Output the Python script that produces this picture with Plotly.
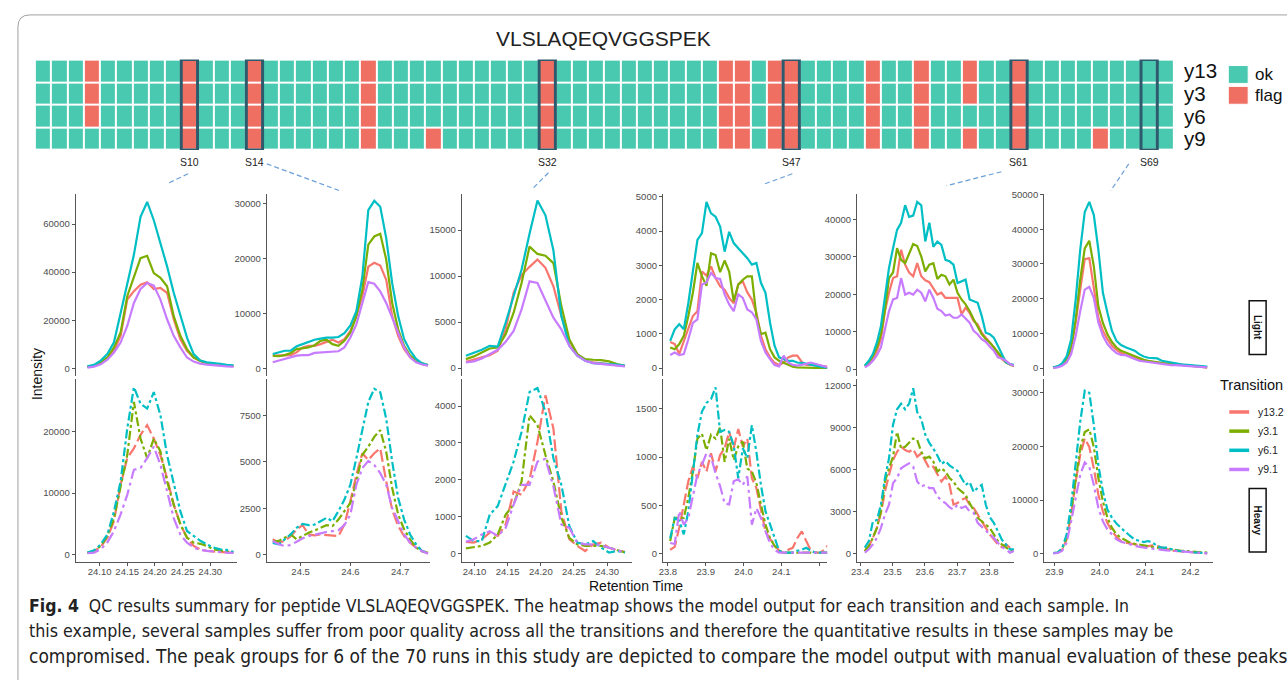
import plotly.graph_objects as go

W, H = 1287, 680

# ---------------- heatmap data ----------------
SAMPLES = list(range(1, 71))
HM_ROWS = ["y13", "y3", "y6", "y9"]
FLAG_ALL_ROWS = [10, 14, 21, 32, 43, 44, 46, 47, 52, 55, 61]
FLAG_SOME_ROWS = {4: ["y13", "y3", "y6"], 25: ["y9"], 58: ["y13", "y3", "y9"], 66: ["y9"]}
SHOWN_SAMPLES = [10, 14, 32, 47, 61, 69]
PEPTIDE = "VLSLAQEQVGGSPEK"

TRANSITIONS = ["y13.2", "y3.1", "y6.1", "y9.1"]
COLORS = ["#F8766D", "#7CAE00", "#00BFC4", "#C77CFF"]

# ---------------- chromatograms ----------------
S10_RT = [24.078, 24.090, 24.102, 24.114, 24.126, 24.138, 24.150, 24.162, 24.174, 24.186, 24.198, 24.210,
          24.222, 24.234, 24.246, 24.258, 24.270, 24.282, 24.294, 24.306, 24.318, 24.330, 24.342]
S10_LIGHT = {
    "y13.2": [550, 950, 2000, 3900, 7300, 13500, 28600, 32100, 34800, 35800, 33000, 33400, 31400, 20400, 12100, 7300, 4500, 2900, 2000, 1650, 1200, 950, 800],
    "y3.1": [700, 1200, 2500, 4500, 8700, 14900, 30000, 38300, 45800, 46800, 39600, 37600, 34100, 21700, 13500, 8000, 4500, 3200, 2200, 1650, 1400, 1100, 1000],
    "y6.1": [800, 1400, 3200, 5900, 10800, 23000, 35500, 47200, 63000, 69200, 61600, 52000, 42400, 31400, 21700, 12800, 5900, 3200, 2500, 2300, 1900, 1400, 1200],
    "y9.1": [300, 700, 1650, 3600, 6600, 10700, 17600, 27200, 33000, 35500, 34400, 28600, 20400, 13500, 8700, 4500, 2800, 1900, 1500, 1200, 950, 800, 700],
}
S10_HEAVY = {
    "y13.2": [220, 490, 1200, 2700, 5400, 11400, 15700, 17300, 19500, 21100, 18900, 16200, 12400, 8100, 4900, 2700, 1350, 800, 540, 430, 380, 270, 220],
    "y3.1": [220, 540, 1350, 3000, 5900, 10800, 16200, 24900, 18900, 15700, 18900, 16800, 11900, 8100, 4900, 2700, 1900, 1700, 1350, 800, 650, 430, 270],
    "y6.1": [270, 650, 1600, 3200, 7000, 11900, 20500, 27300, 24600, 23800, 26500, 22700, 16200, 11400, 7000, 3800, 3000, 2200, 1600, 1100, 800, 700, 380],
    "y9.1": [160, 270, 800, 1900, 3800, 6500, 9700, 13800, 14100, 15700, 17600, 14600, 10300, 5900, 3200, 1900, 1100, 700, 540, 490, 380, 270, 220],
}

S14_RT = [24.444, 24.456, 24.468, 24.480, 24.492, 24.504, 24.516, 24.528, 24.540, 24.552, 24.564, 24.576, 24.588,
          24.600, 24.612, 24.624, 24.636, 24.648, 24.660, 24.672, 24.684, 24.696, 24.708, 24.720, 24.732, 24.744, 24.756]
S14_LIGHT = {
    "y13.2": [2300, 2300, 2300, 2400, 2900, 3800, 4100, 4100, 4400, 4800, 5200, 4700, 5300, 6800, 9500, 13100, 18500, 19200, 18700, 16100, 9500, 5900, 3500, 2000, 1200, 800, 500],
    "y3.1": [2300, 2200, 2400, 2800, 3500, 3600, 3800, 4200, 5000, 5200, 4400, 4100, 5000, 6500, 9500, 14300, 22500, 24000, 24500, 19800, 11900, 7100, 4100, 2300, 1400, 900, 600],
    "y6.1": [2600, 2900, 3200, 3200, 4000, 4400, 4800, 5200, 5400, 5600, 5600, 5700, 6400, 7800, 10400, 16700, 28800, 30500, 29400, 23700, 15500, 9500, 5300, 3200, 1700, 900, 600],
    "y9.1": [1100, 1400, 1800, 2000, 2300, 2400, 2400, 2800, 2900, 3000, 3100, 3100, 3800, 5600, 8000, 11900, 15700, 15400, 14000, 11900, 9200, 6500, 3800, 2000, 1100, 700, 500],
}
S14_HEAVY = {
    "y13.2": [840, 660, 750, 1010, 1370, 1600, 1100, 1050, 1100, 1070, 1050, 1010, 1630, 2880, 4300, 5460, 5100, 5460, 5720, 3950, 2430, 1550, 1010, 660, 390, 180, 90],
    "y3.1": [710, 750, 920, 1100, 840, 1010, 1190, 1310, 1460, 1600, 1550, 1900, 2350, 2790, 3950, 5370, 5810, 6340, 6700, 5540, 3590, 2170, 1370, 840, 390, 210, 120],
    "y6.1": [650, 570, 840, 1100, 1460, 1670, 1600, 1630, 1810, 1990, 1810, 2350, 2970, 3770, 5190, 6610, 8210, 8920, 8740, 7320, 5010, 3060, 1900, 1100, 570, 210, 120],
    "y9.1": [750, 570, 480, 530, 710, 890, 1010, 1100, 1160, 1230, 1280, 1330, 1600, 2170, 3770, 4660, 5050, 4830, 4390, 3770, 2520, 1810, 1100, 660, 390, 210, 70],
}

S32_RT = [24.087, 24.099, 24.111, 24.123, 24.135, 24.147, 24.159, 24.171, 24.183, 24.195, 24.207,
          24.219, 24.231, 24.243, 24.255, 24.267, 24.279, 24.291, 24.303, 24.315, 24.327]
S32_LIGHT = {
    "y13.2": [680, 900, 1120, 1400, 1870, 4210, 8170, 10100, 11000, 11800, 10900, 8880, 5650, 2950, 1510, 790, 610, 540, 430, 320, 220],
    "y3.1": [970, 1260, 1690, 2120, 2230, 3670, 6010, 9240, 13200, 12400, 12200, 11400, 6730, 3130, 1510, 970, 900, 860, 720, 430, 250],
    "y6.1": [1330, 1620, 1980, 2410, 2340, 4930, 7800, 10700, 14600, 18200, 16600, 12800, 5650, 2410, 1330, 790, 540, 500, 430, 360, 250],
    "y9.1": [610, 720, 1040, 1510, 1980, 2840, 4030, 6370, 9420, 9240, 7270, 5470, 4210, 2410, 1330, 790, 540, 430, 320, 250, 180],
}
S32_HEAVY = {
    "y13.2": [310, 290, 380, 560, 470, 780, 1680, 1590, 2000, 3030, 4290, 3390, 1140, 380, 200, 60, 240, 290, 150, 80, 40],
    "y3.1": [130, 170, 200, 290, 510, 1050, 1320, 1950, 3750, 3480, 2670, 1950, 960, 420, 240, 200, 200, 200, 150, 80, 20],
    "y6.1": [470, 330, 330, 1050, 1280, 1860, 2490, 3300, 4380, 4490, 3840, 2580, 1860, 740, 290, 240, 330, 150, 20, 60, 20],
    "y9.1": [310, 380, 510, 600, 470, 690, 1320, 1860, 1860, 2490, 2560, 1820, 780, 690, 290, 240, 240, 220, 150, 80, 20],
}

S47_RT = [23.806, 23.818, 23.830, 23.842, 23.854, 23.866, 23.878, 23.890, 23.902, 23.914, 23.926, 23.938,
          23.950, 23.962, 23.974, 23.986, 23.998, 24.010, 24.022, 24.034, 24.046, 24.058, 24.070, 24.082,
          24.094, 24.106, 24.118, 24.130, 24.142, 24.154, 24.166, 24.178, 24.190, 24.202, 24.214, 24.226]
S47_LIGHT = {
    "y13.2": [760, 700, 410, 790, 1130, 1520, 1660, 2820, 2700, 2970, 2630, 2390, 2290, 2050, 1890, 2440, 2530, 2210, 2000, 1610, 940, 550, 310, 150, 90, 160, 310, 360, 360, 180, 90, 90, 90, 70, 50, 30],
    "y3.1": [600, 550, 700, 940, 1520, 2200, 3070, 2680, 2400, 3350, 3300, 2800, 3140, 2820, 1950, 2440, 2580, 2680, 2680, 1520, 990, 1030, 550, 310, 210, 160, 90, 40, 20, 10, 0, 0, 0, 0, 0, 0],
    "y6.1": [790, 1130, 1280, 1130, 1900, 2780, 3740, 3940, 4850, 4520, 4420, 4130, 3400, 3980, 3650, 3500, 3360, 3210, 3020, 3070, 2490, 2200, 1330, 650, 310, 260, 210, 210, 160, 150, 120, 90, 70, 50, 20, 10],
    "y9.1": [380, 450, 380, 410, 840, 1320, 1420, 2440, 2500, 2780, 2630, 2600, 2150, 1860, 1660, 2150, 2050, 1710, 1630, 1420, 790, 450, 260, 90, 50, 360, 160, 90, 70, 90, 120, 160, 120, 70, 30, 10],
}
S47_HEAVY = {
    "y13.2": [40, 70, 270, 510, 750, 900, 780, 950, 850, 1040, 850, 1020, 1090, 1260, 1090, 1290, 1110, 1190, 780, 680, 440, 230, 150, 100, 30, 10, 40, 60, 160, 230, 130, 30, 10, 10, 40, 100],
    "y3.1": [130, 370, 370, 370, 580, 850, 1190, 1240, 1070, 1230, 1190, 1310, 950, 1190, 970, 1110, 1160, 880, 850, 730, 510, 300, 160, 80, 30, 10, 10, 10, 10, 10, 10, 10, 10, 10, 10, 10],
    "y6.1": [160, 370, 340, 200, 440, 850, 1230, 1470, 1560, 1600, 1720, 1260, 1280, 1260, 1120, 780, 1090, 990, 1330, 1050, 710, 440, 300, 160, 30, 10, 10, 10, 30, 40, 60, 30, 10, 10, 10, 10],
    "y9.1": [110, 100, 440, 300, 370, 590, 820, 920, 1040, 1000, 830, 700, 520, 510, 750, 770, 710, 800, 300, 470, 370, 230, 110, 40, 10, 10, 10, 10, 10, 10, 10, 10, 10, 10, 10, 10],
}

S61_RT = [23.4140, 23.4265, 23.4390, 23.4515, 23.4640, 23.4765, 23.4890, 23.5015, 23.5140, 23.5265,
          23.5390, 23.5515, 23.5640, 23.5765, 23.5890, 23.6015, 23.6140, 23.6265, 23.6390, 23.6515,
          23.6640, 23.6765, 23.6890, 23.7015, 23.7140, 23.7265, 23.7390, 23.7515, 23.7640, 23.7765,
          23.7890, 23.8015, 23.8140, 23.8265, 23.8390, 23.8515, 23.8640, 23.8765]
S61_LIGHT = {
    "y13.2": [710, 1500, 2800, 4900, 8000, 15500, 20400, 24300, 24800, 31900, 27900, 25800, 24800, 28300, 24800, 23700, 23200, 21700, 19900, 20400, 19000, 19000, 19000, 19000, 14600, 16400, 15000, 12800, 11900, 9700, 8400, 7100, 5800, 4000, 2700, 1800, 1200, 710],
    "y3.1": [890, 1800, 3500, 5800, 9300, 15900, 24300, 25800, 32300, 29200, 28300, 31000, 33400, 32900, 30100, 26100, 27900, 28300, 24100, 25200, 24800, 22600, 23900, 20400, 18600, 17300, 15500, 13300, 11100, 9300, 8000, 7100, 5800, 4400, 3100, 1800, 1200, 890],
    "y6.1": [890, 2200, 4000, 7100, 11500, 18600, 27000, 32300, 37200, 39100, 43800, 40700, 41000, 44700, 43800, 34100, 39100, 32700, 34100, 33200, 29200, 28800, 27900, 23000, 23500, 23900, 18600, 18100, 17700, 14200, 9700, 9300, 8400, 6200, 4000, 1800, 1300, 1100],
    "y9.1": [440, 1100, 2200, 3700, 5800, 10600, 15500, 18600, 19000, 24300, 19900, 20400, 19900, 21200, 20400, 18100, 21200, 19000, 16100, 15500, 14300, 14600, 13700, 13700, 14600, 13500, 12400, 10200, 9300, 8000, 7300, 6000, 4900, 3100, 2800, 2200, 1300, 890],
}
S61_HEAVY = {
    "y13.2": [190, 540, 1130, 1840, 2910, 4440, 5620, 6680, 7270, 7630, 7390, 7270, 7460, 6920, 7160, 6570, 6090, 6210, 5620, 5150, 5500, 4910, 3500, 3610, 3850, 3970, 3500, 3260, 2790, 2310, 1840, 1370, 1020, 660, 470, 660, 430, 540],
    "y3.1": [190, 540, 1130, 1840, 3020, 5150, 6090, 6920, 8690, 7510, 7630, 7940, 8220, 8100, 7270, 6800, 6920, 6570, 5860, 6090, 5860, 5390, 5150, 4680, 4440, 4200, 3610, 3020, 2550, 2310, 2080, 1840, 1370, 900, 660, 430, 240, 190],
    "y6.1": [430, 900, 2300, 2400, 3500, 5400, 6800, 9200, 10300, 10700, 10300, 10700, 11800, 10100, 9600, 8500, 7900, 7500, 7000, 6400, 6600, 6300, 6100, 5900, 5400, 4900, 5100, 4400, 4700, 4900, 3500, 2600, 2200, 1600, 1000, 660, 310, 310],
    "y9.1": [70, 310, 660, 1130, 1840, 2790, 3500, 5030, 5390, 6090, 6280, 6450, 6210, 5150, 4790, 4910, 4680, 4680, 4090, 3780, 3610, 3310, 3140, 3500, 3260, 3380, 3020, 2910, 2200, 1890, 1650, 1370, 1130, 780, 470, 310, 70, 190],
}

S69_RT = [23.897, 23.907, 23.917, 23.927, 23.937, 23.947, 23.957, 23.967, 23.977, 23.987, 23.997, 24.007,
          24.017, 24.027, 24.037, 24.047, 24.057, 24.067, 24.077, 24.087, 24.097, 24.107, 24.117, 24.127,
          24.137, 24.147, 24.157, 24.167, 24.177, 24.187, 24.197, 24.207, 24.217, 24.227, 24.237]
S69_LIGHT = {
    "y13.2": [100, 380, 950, 2290, 5400, 13100, 22600, 31400, 31700, 23600, 14500, 10700, 8300, 6400, 5200, 4300, 3800, 3340, 2770, 2390, 2100, 1910, 1620, 1430, 1340, 1240, 1150, 1050, 950, 860, 760, 670, 480, 380, 190],
    "y3.1": [100, 380, 1050, 2580, 5900, 14000, 25500, 34500, 36700, 29300, 17800, 13000, 9700, 7500, 5900, 5000, 4500, 4000, 3340, 2770, 2390, 2100, 1810, 1620, 1430, 1340, 1150, 1050, 950, 860, 760, 670, 480, 380, 190],
    "y6.1": [190, 480, 1340, 3340, 8300, 19800, 34100, 45000, 47900, 44100, 34100, 21700, 15900, 10700, 7800, 6600, 6000, 5600, 5000, 4000, 3340, 2960, 2860, 2770, 2100, 1810, 1620, 1340, 1150, 950, 860, 670, 570, 480, 380],
    "y9.1": [0, 190, 670, 1620, 4000, 9300, 16400, 22600, 23400, 20200, 13100, 9300, 6900, 5400, 4300, 3800, 3700, 3050, 2580, 2100, 1910, 1620, 1430, 1340, 1150, 950, 860, 860, 760, 670, 570, 480, 380, 290, 190],
}
S69_HEAVY = {
    "y13.2": [120, 120, 680, 2650, 7300, 13500, 18400, 21500, 19900, 15900, 11000, 7900, 5700, 4200, 3150, 2350, 2040, 1850, 1730, 1600, 1420, 1420, 1540, 1420, 1110, 800, 620, 490, 430, 370, 310, 250, 190, 120, 60],
    "y3.1": [120, 190, 800, 2960, 7900, 14100, 19600, 22700, 23200, 19900, 14100, 9750, 6700, 4800, 3580, 2960, 2470, 2040, 1850, 1730, 1600, 1420, 1230, 1110, 930, 800, 740, 620, 560, 490, 430, 370, 310, 250, 190],
    "y6.1": [120, 190, 990, 3580, 9140, 17200, 24600, 30400, 30000, 24000, 16500, 11600, 8200, 6700, 5600, 4800, 4000, 3300, 2650, 2350, 2160, 2350, 2040, 1420, 1110, 1110, 800, 620, 490, 370, 310, 250, 190, 120, 120],
    "y9.1": [60, 120, 490, 2040, 6050, 10400, 14700, 17000, 16200, 12800, 8500, 6050, 4500, 3580, 2650, 2220, 2040, 1730, 1420, 1230, 1110, 990, 930, 800, 680, 620, 560, 490, 430, 370, 310, 250, 190, 120, 60],
}

# ---------------- tick values ----------------
X_TICKS = [[24.10, 24.15, 24.20, 24.25, 24.30], [24.5, 24.6, 24.7], [24.10, 24.15, 24.20, 24.25, 24.30],
           [23.8, 23.9, 24.0, 24.1, 24.2], [23.4, 23.5, 23.6, 23.7, 23.8], [23.9, 24.0, 24.1, 24.2]]
X_TICKTEXT = [["24.10", "24.15", "24.20", "24.25", "24.30"], ["24.5", "24.6", "24.7"],
              ["24.10", "24.15", "24.20", "24.25", "24.30"], ["23.8", "23.9", "24.0", "24.1", ""],
              ["23.4", "23.5", "23.6", "23.7", "23.8"], ["23.9", "24.0", "24.1", "24.2"]]
LIGHT_TICKS = [[0, 20000, 40000, 60000], [0, 10000, 20000, 30000], [0, 5000, 10000, 15000],
               [0, 1000, 2000, 3000, 4000, 5000], [0, 10000, 20000, 30000, 40000],
               [0, 10000, 20000, 30000, 40000, 50000]]
HEAVY_TICKS = [[0, 10000, 20000], [0, 2500, 5000, 7500], [0, 1000, 2000, 3000, 4000],
               [0, 500, 1000, 1500], [0, 3000, 6000, 9000, 12000], [0, 10000, 20000, 30000]]

RT = {10: S10_RT, 14: S14_RT, 32: S32_RT, 47: S47_RT, 61: S61_RT, 69: S69_RT}
LIGHT = {10: S10_LIGHT, 14: S14_LIGHT, 32: S32_LIGHT, 47: S47_LIGHT, 61: S61_LIGHT, 69: S69_LIGHT}
HEAVY = {10: S10_HEAVY, 14: S14_HEAVY, 32: S32_HEAVY, 47: S47_HEAVY, 61: S61_HEAVY, 69: S69_HEAVY}

# ---------------- layout geometry (pixels) ----------------
COL_PX = [(70, 232), (262, 426), (458, 629), (660, 825), (855, 1013), (1043, 1213)]
X_RANGES = [[24.0568, 24.3482], [24.432, 24.76], [24.0809, 24.3377], [23.7868, 24.2211],
            [23.3898, 23.8775], [23.8774, 24.2506]]
LIGHT_RANGES = [[-3303, 72677], [-1446, 31807], [-896, 18960], [-241, 5096], [-1938, 46900], [-2375, 50286]]
HEAVY_RANGES = [[-1249, 28597], [-373, 9435], [-235, 4728], [-85, 1805], [-588, 12446], [-1537, 32537]]
LIGHT_PX = (190, 374)
HEAVY_PX = (377, 561)
HEAVY_DASH = ["12px,4px", "9px,3px,3px,3px", "9px,3px,3px,3px", "12px,4px,3px,4px"]

FONT = "Liberation Sans, Arial, sans-serif"
AXC = "#555555"
TICKC = "#4d4d4d"
OK_C = "#48C9B0"
FLAG_C = "#EF6F63"


def fx(x):
    return x / W


def fy(y):
    return 1 - y / H


def ax(kind, i):
    return kind if i == 1 else f"{kind}{i}"


def note(x, y, text, size, color="#111", xanchor="center", yanchor="middle", angle=0, family=FONT):
    return dict(x=fx(x), y=fy(y), xref="paper", yref="paper", text=text, showarrow=False,
                xanchor=xanchor, yanchor=yanchor, textangle=angle,
                font=dict(family=family, size=size, color=color))


fig = go.Figure()

# chromatogram traces
for ci, s in enumerate(SHOWN_SAMPLES):
    for ti, t in enumerate(TRANSITIONS):
        fig.add_trace(go.Scatter(
            x=RT[s], y=LIGHT[s][t], mode="lines",
            line=dict(color=COLORS[ti], width=2.2), showlegend=False, hoverinfo="skip",
            xaxis=ax("x", ci + 1), yaxis=ax("y", ci + 1)))
    for ti, t in enumerate(TRANSITIONS):
        fig.add_trace(go.Scatter(
            x=RT[s], y=HEAVY[s][t], mode="lines",
            line=dict(color=COLORS[ti], width=2.2, dash=HEAVY_DASH[ti]), showlegend=False, hoverinfo="skip",
            xaxis=ax("x", ci + 1), yaxis=ax("y", ci + 7)))

# heatmap
z = []
for r in HM_ROWS:
    row = []
    for s in SAMPLES:
        flagged = s in FLAG_ALL_ROWS or r in FLAG_SOME_ROWS.get(s, [])
        row.append(1 if flagged else 0)
    z.append(row)
fig.add_trace(go.Heatmap(
    z=z, x=SAMPLES, y=list(range(len(HM_ROWS))), zmin=0, zmax=1,
    colorscale=[[0, OK_C], [0.5, OK_C], [0.5, FLAG_C], [1, FLAG_C]],
    showscale=False, xgap=2, ygap=2, hoverinfo="skip", xaxis="x13", yaxis="y13"))

axis_common = dict(showgrid=False, zeroline=False, showline=True, linecolor=AXC, linewidth=1.1,
                   ticks="outside", ticklen=3, tickcolor=AXC, tickwidth=1.1,
                   tickfont=dict(family=FONT, size=9.5, color=TICKC))
lay = {}
for ci in range(6):
    x0, x1 = COL_PX[ci]
    lay[ax("xaxis", ci + 1)] = dict(axis_common, domain=[fx(x0), fx(x1)], range=X_RANGES[ci],
                                    anchor=ax("y", ci + 7), tickvals=X_TICKS[ci], ticktext=X_TICKTEXT[ci],
                                    ticklabelstandoff=-2)
    lay[ax("yaxis", ci + 1)] = dict(axis_common, domain=[fy(LIGHT_PX[1]), fy(LIGHT_PX[0])],
                                    range=LIGHT_RANGES[ci], anchor=ax("x", ci + 1),
                                    tickvals=LIGHT_TICKS[ci], tickformat="d")
    lay[ax("yaxis", ci + 7)] = dict(axis_common, domain=[fy(HEAVY_PX[1]), fy(HEAVY_PX[0])],
                                    range=HEAVY_RANGES[ci], anchor=ax("x", ci + 1),
                                    tickvals=HEAVY_TICKS[ci], tickformat="d")
lay["xaxis13"] = dict(domain=[fx(29), fx(1173)], range=[0.5, 70.5], visible=False, anchor="y13")
lay["yaxis13"] = dict(domain=[fy(146), fy(55)], range=[3.5, -0.5], visible=False, anchor="x13")

shapes = []
ann = []
# outer frame
shapes.append(dict(type="path", xref="paper", yref="paper",
                   path=f"M {fx(12)} {fy(680)} L {fx(12)} {fy(22)} Q {fx(12)} {fy(10)} {fx(24)} {fy(10)} L {fx(1287)} {fy(10)}",
                   line=dict(color="#a0a0a0", width=1)))
# highlight boxes and labels
for s in SHOWN_SAMPLES:
    shapes.append(dict(type="rect", xref="x13", yref="y13", x0=s - 0.5, x1=s + 0.5, y0=-0.5, y1=3.5,
                       line=dict(color="#2d5b6d", width=3)))
    ann.append(dict(x=s, xref="x13", y=fy(158), yref="paper", text=f"S{s}", showarrow=False,
                    xanchor="center", yanchor="middle", font=dict(family=FONT, size=10.5, color="#222")))
# connector dashed lines
CONNECT = [((183, 170), (162, 180)), ((262, 160), (335, 187)), ((545, 169), (528, 186)),
           ((790, 170), (760, 181)), ((1000, 168), (945, 182)), ((1128, 160), (1110, 187))]
for (a, b) in CONNECT:
    shapes.append(dict(type="line", xref="paper", yref="paper", x0=fx(a[0]), y0=fy(a[1]), x1=fx(b[0]), y1=fy(b[1]),
                       line=dict(color="#6a9fd8", width=1.2, dash="5px,3px")))
# heatmap title, row labels, legend
ann.append(note(600, 34, PEPTIDE, 21, "#222"))
for i, r in enumerate(HM_ROWS):
    ann.append(note(1182, 55 + 22.75 * (i + 0.5), r, 20.5, xanchor="left"))
for i, (lab, col) in enumerate([("ok", OK_C), ("flag", FLAG_C)]):
    y0 = 61 + i * 21
    shapes.append(dict(type="rect", xref="paper", yref="paper", x0=fx(1228), x1=fx(1248), y0=fy(y0 + 18), y1=fy(y0),
                       fillcolor=col, line=dict(color="white", width=1)))
    ann.append(note(1253, y0 + 9, lab, 17, xanchor="left"))
# axis titles
ann.append(note(31, 372, "Intensity", 14, angle=-90))
ann.append(note(633, 585, "Retention Time", 14))
# facet strips
for lab, (y0, y1) in [("Light", (298, 352)), ("Heavy", (487, 551))]:
    shapes.append(dict(type="rect", xref="paper", yref="paper", x0=fx(1249), x1=fx(1266), y0=fy(y1), y1=fy(y0),
                       line=dict(color="#111", width=1.5)))
    ann.append(note(1257.5, (y0 + y1) / 2, f"<b>{lab}</b>", 10, angle=90))
# transition legend
ann.append(note(1218, 383, "Transition", 14.5, xanchor="left"))
for i, t in enumerate(TRANSITIONS):
    yy = 410 + i * 19.3
    shapes.append(dict(type="line", xref="paper", yref="paper", x0=fx(1229), x1=fx(1249), y0=fy(yy), y1=fy(yy),
                       line=dict(color=COLORS[i], width=3.5)))
    ann.append(note(1256, yy, t, 10.5, "#222", xanchor="left"))
# caption
CAP_FONT = "DejaVu Sans Condensed, Liberation Sans Narrow, Arial Narrow, sans-serif"
CAPTION = [
    "<b>Fig. 4</b>  QC results summary for peptide VLSLAQEQVGGSPEK. The heatmap shows the model output for each transition and each sample. In",
    "this example, several samples suffer from poor quality across all the transitions and therefore the quantitative results in these samples may be",
    "compromised. The peak groups for 6 of the 70 runs in this study are depicted to compare the model output with manual evaluation of these peaks",
]
CAP_SIZES = [17.5, 17.7, 19]
for i, line in enumerate(CAPTION):
    ann.append(note(21, 605 + 25.5 * i, line, CAP_SIZES[i], "#222", xanchor="left", family=CAP_FONT))

fig.update_layout(width=W, height=H, margin=dict(l=0, r=0, t=0, b=0), paper_bgcolor="white",
                  plot_bgcolor="white", font=dict(family=FONT), shapes=shapes, annotations=ann, **lay)
fig.write_html("out.html", config={"displayModeBar": False},
               post_script="document.body.style.margin='0px';document.body.style.padding='0px';")
